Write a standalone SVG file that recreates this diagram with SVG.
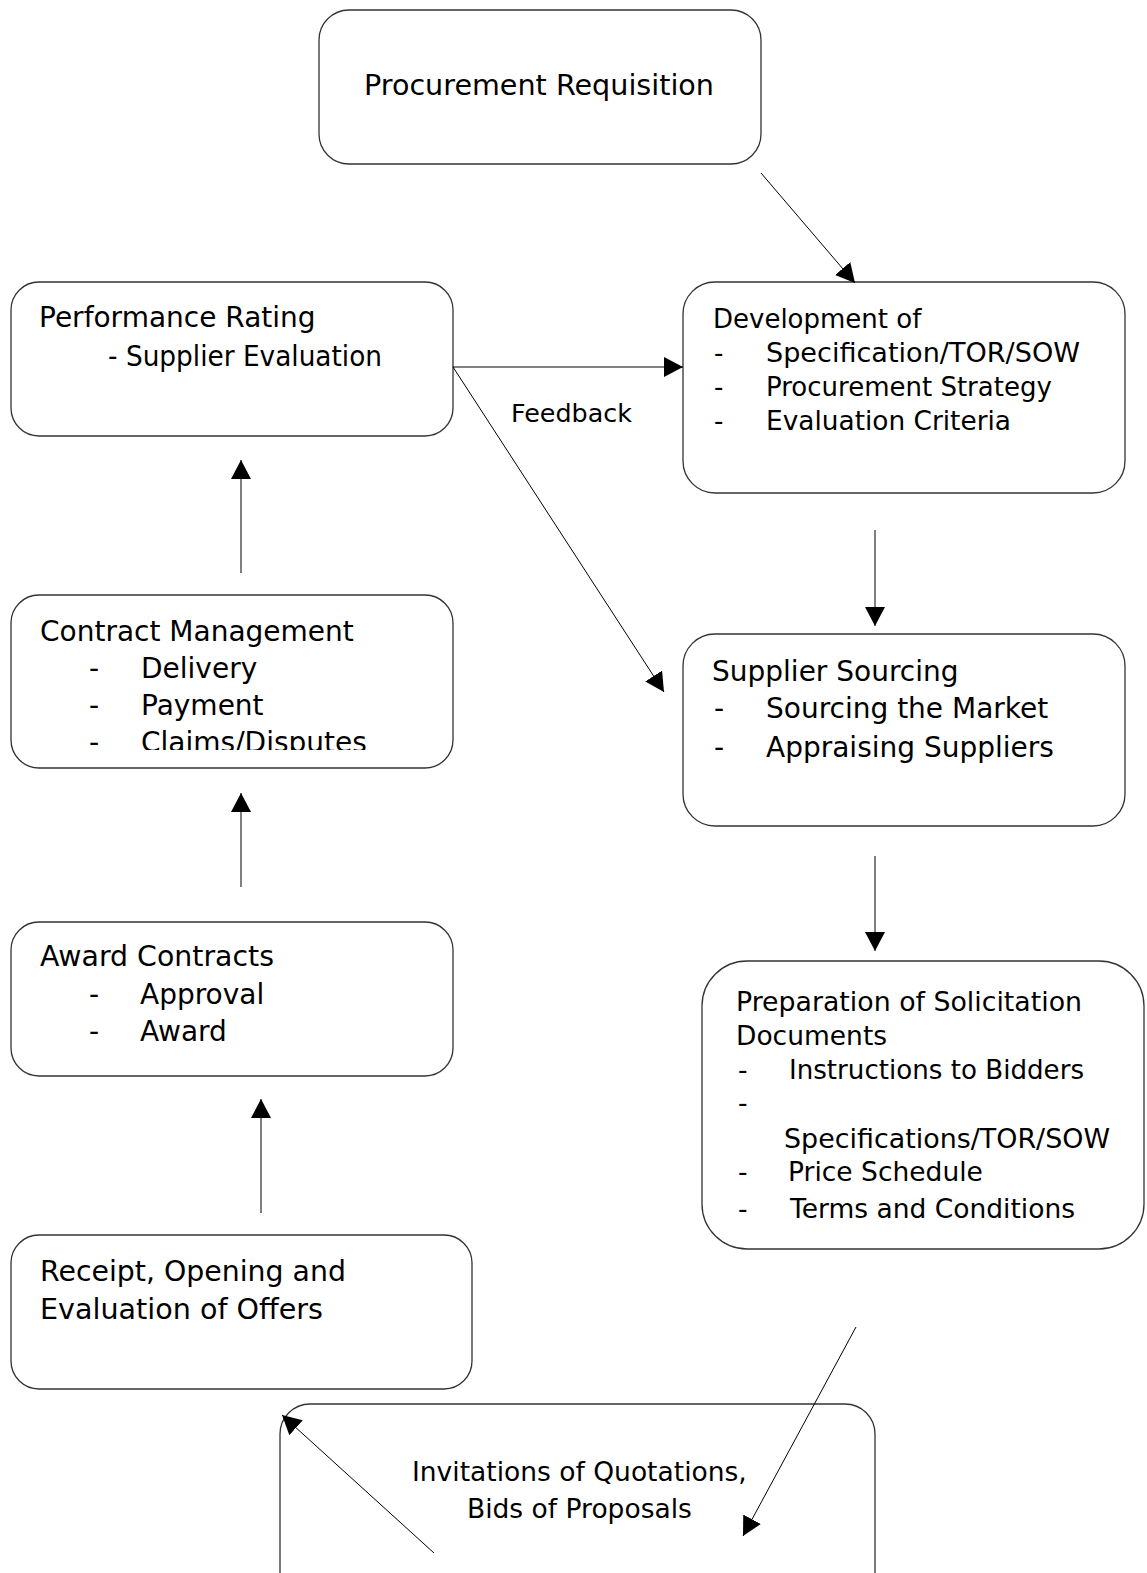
<svg xmlns="http://www.w3.org/2000/svg" width="1147" height="1573" viewBox="0 0 1147 1573">
<style>
.box{fill:#fff;stroke:#333;stroke-width:1.3}
text{font-family:"DejaVu Sans",Verdana,sans-serif;fill:#000}
.t29{font-size:29px}
.t28{font-size:28px}
.t26{font-size:26px}
.t27{font-size:26.5px}
.t25{font-size:25px}
.conn line{stroke:#000;stroke-width:1}
</style>
<defs>
<marker id="ah" markerUnits="userSpaceOnUse" markerWidth="20" markerHeight="20" refX="19" refY="10" orient="auto" viewBox="0 0 20 20">
<path d="M0,0 L19,10 L0,20 z" fill="#000"/>
</marker>
<clipPath id="cmclip"><rect x="11" y="595" width="442" height="155"/></clipPath>
</defs>

<g id="procurement-requisition">
<rect class="box" x="319" y="10" width="442" height="154" rx="30"/>
<text class="t29" x="364" y="95" textLength="350" lengthAdjust="spacingAndGlyphs">Procurement Requisition</text>
</g>

<g id="performance-rating">
<rect class="box" x="11" y="282" width="442" height="154" rx="28"/>
<text class="t28" x="39" y="327">Performance Rating</text>
<text class="t28" x="108" y="366" textLength="274" lengthAdjust="spacingAndGlyphs">- Supplier Evaluation</text>
</g>

<g id="development">
<rect class="box" x="683" y="282" width="442" height="211" rx="32"/>
<text class="t26" x="713" y="328">Development of</text>
<text class="t26" y="362"><tspan x="714">-</tspan><tspan x="766" textLength="314" lengthAdjust="spacingAndGlyphs">Specification/TOR/SOW</tspan></text>
<text class="t26" y="396"><tspan x="714">-</tspan><tspan x="766">Procurement Strategy</tspan></text>
<text class="t26" y="430"><tspan x="714">-</tspan><tspan x="766" textLength="245" lengthAdjust="spacingAndGlyphs">Evaluation Criteria</tspan></text>
</g>

<g id="contract-management">
<rect class="box" x="11" y="595" width="442" height="173" rx="28"/>
<g clip-path="url(#cmclip)">
<text class="t28" x="40" y="641">Contract Management</text>
<text class="t28" y="678"><tspan x="89">-</tspan><tspan x="141">Delivery</tspan></text>
<text class="t28" y="715"><tspan x="89">-</tspan><tspan x="141">Payment</tspan></text>
<text class="t28" y="752"><tspan x="89">-</tspan><tspan x="141">Claims/Disputes</tspan></text>
</g>
</g>

<g id="supplier-sourcing">
<rect class="box" x="683" y="634" width="442" height="192" rx="32"/>
<text class="t28" x="712" y="681">Supplier Sourcing</text>
<text class="t28" y="718"><tspan x="714">-</tspan><tspan x="766">Sourcing the Market</tspan></text>
<text class="t28" y="757"><tspan x="714">-</tspan><tspan x="766">Appraising Suppliers</tspan></text>
</g>

<g id="award-contracts">
<rect class="box" x="11" y="922" width="442" height="154" rx="28"/>
<text class="t28" x="40" y="966" textLength="234" lengthAdjust="spacingAndGlyphs">Award Contracts</text>
<text class="t28" y="1004"><tspan x="89">-</tspan><tspan x="140">Approval</tspan></text>
<text class="t28" y="1041"><tspan x="89">-</tspan><tspan x="140">Award</tspan></text>
</g>

<g id="solicitation-documents">
<rect class="box" x="702" y="961" width="442" height="288" rx="45"/>
<text class="t27" x="736" y="1011" textLength="346" lengthAdjust="spacingAndGlyphs">Preparation of Solicitation</text>
<text class="t27" x="736" y="1045">Documents</text>
<text class="t27" y="1079"><tspan x="738">-</tspan><tspan x="789" textLength="295" lengthAdjust="spacingAndGlyphs">Instructions to Bidders</tspan></text>
<text class="t27" x="738" y="1112">-</text>
<text class="t27" x="784" y="1148" textLength="326" lengthAdjust="spacingAndGlyphs">Specifications/TOR/SOW</text>
<text class="t27" y="1181"><tspan x="738">-</tspan><tspan x="788">Price Schedule</tspan></text>
<text class="t27" y="1218"><tspan x="738">-</tspan><tspan x="790">Terms and Conditions</tspan></text>
</g>

<g id="receipt-evaluation">
<rect class="box" x="11" y="1235" width="461" height="154" rx="28"/>
<text class="t28" x="40" y="1281" textLength="306" lengthAdjust="spacingAndGlyphs">Receipt, Opening and</text>
<text class="t28" x="40" y="1319" textLength="283" lengthAdjust="spacingAndGlyphs">Evaluation of Offers</text>
</g>

<g id="invitations">
<rect class="box" x="280" y="1404" width="595" height="200" rx="30"/>
<text class="t27" x="412" y="1481">Invitations of Quotations,</text>
<text class="t27" x="467" y="1518">Bids of Proposals</text>
</g>

<g id="connectors" class="conn">
<line x1="761" y1="173" x2="855" y2="283" marker-end="url(#ah)"/>
<line x1="453" y1="367" x2="683" y2="367" marker-end="url(#ah)"/>
<line x1="453" y1="367" x2="664" y2="692" marker-end="url(#ah)"/>
<line x1="241" y1="573" x2="241" y2="460" marker-end="url(#ah)"/>
<line x1="241" y1="887" x2="241" y2="793" marker-end="url(#ah)"/>
<line x1="261" y1="1213" x2="261" y2="1099" marker-end="url(#ah)"/>
<line x1="875" y1="530" x2="875" y2="626" marker-end="url(#ah)"/>
<line x1="875" y1="856" x2="875" y2="951" marker-end="url(#ah)"/>
<line x1="856" y1="1327" x2="743" y2="1536" marker-end="url(#ah)"/>
<line x1="434" y1="1553" x2="282" y2="1415" marker-end="url(#ah)"/>
<text class="t25" x="511" y="422" textLength="121" lengthAdjust="spacingAndGlyphs">Feedback</text>
</g>
</svg>
